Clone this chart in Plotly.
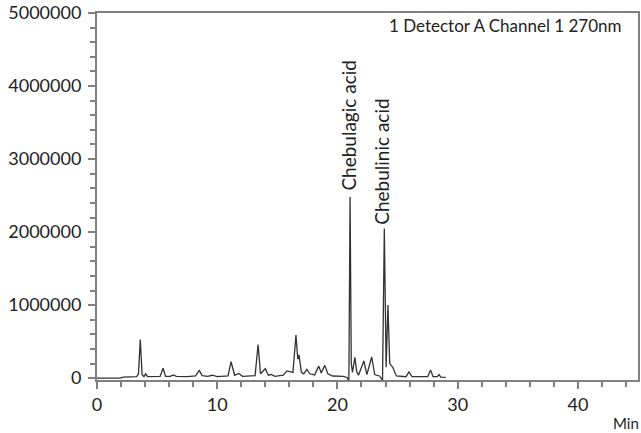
import plotly.graph_objects as go

# Retention time (min) and detector signal
time = [0, 1.9, 2.2, 3.3, 3.45, 3.6, 3.75, 3.9, 4.05, 4.2, 5.25, 5.5, 5.7, 6.1, 6.35, 6.6,
        7.5, 8.2, 8.5, 8.75, 9.2, 9.6, 10.0, 10.9, 11.15, 11.45, 11.8, 12.1, 13.15, 13.4,
        13.6, 14.0, 14.25, 14.5, 14.8, 15.5, 15.8, 16.05, 16.3, 16.55, 16.7, 16.8, 17.0,
        17.2, 17.45, 17.7, 18.1, 18.45, 18.65, 18.95, 19.2, 19.6, 20.5, 20.8, 20.95, 21.05,
        21.15, 21.25, 21.45, 21.6, 21.75, 22.2, 22.45, 22.85, 23.1, 23.5, 23.75, 23.9,
        24.05, 24.2, 24.35, 24.6, 24.9, 25.7, 25.95, 26.2, 27.5, 27.75, 27.95, 28.3,
        28.45, 28.6, 29.0]
signal = [0, 0, 15000, 20000, 60000, 530000, 50000, 20000, 60000, 20000, 25000, 135000,
          25000, 25000, 45000, 25000, 20000, 30000, 105000, 35000, 25000, 40000, 20000,
          30000, 225000, 40000, 65000, 25000, 35000, 460000, 60000, 130000, 40000, 50000,
          25000, 40000, 100000, 90000, 80000, 590000, 260000, 320000, 80000, 60000, 120000,
          60000, 45000, 165000, 70000, 175000, 60000, 30000, 25000, 10000, -40000, 2480000,
          200000, 80000, 285000, 90000, 40000, 235000, 50000, 290000, 50000, 30000, -30000,
          2050000, 150000, 1000000, 200000, 150000, 30000, 20000, 85000, 20000, 20000,
          110000, 20000, 20000, 50000, 15000, 10000]

peak_names = ["Chebulagic acid", "Chebulinic acid"]
y_ticks = [0, 1000000, 2000000, 3000000, 4000000, 5000000]
x_ticks = [0, 10, 20, 30, 40]

FONT = "Lato"
axis_col = "#808080"
text_col = "#222222"

fig = go.Figure()
fig.add_trace(go.Scatter(x=time, y=signal, mode="lines",
                         line=dict(color="#333333", width=1.3), showlegend=False))

fig.update_layout(
    width=641, height=433,
    margin=dict(l=97, r=3, t=13, b=53, autoexpand=False),
    paper_bgcolor="white", plot_bgcolor="white",
    font=dict(family=FONT, size=17, color=text_col),
    showlegend=False,
)
fig.update_xaxes(
    range=[0, 45], tickvals=x_ticks, ticktext=[str(v) for v in x_ticks],
    automargin=False, ticklabeloverflow="allow",
    showgrid=False, zeroline=False, showline=True, linecolor=axis_col, linewidth=2,
    mirror=True, ticks="outside", ticklen=7, tickcolor=axis_col, tickwidth=1.5,
    minor=dict(dtick=2, ticks="outside", ticklen=5, tickcolor=axis_col, tickwidth=1.5, showgrid=False),
    tickfont=dict(family=FONT, size=18, color=text_col),
)
fig.update_yaxes(
    range=[-25000, 5000000], tickvals=y_ticks, ticktext=[str(v) for v in y_ticks],
    automargin=False, ticklabelstandoff=3, ticklabeloverflow="allow",
    showgrid=False, zeroline=False, showline=True, linecolor=axis_col, linewidth=2,
    mirror=True, ticks="outside", ticklen=7, tickcolor=axis_col, tickwidth=1.5,
    minor=dict(dtick=200000, ticks="outside", ticklen=5, tickcolor=axis_col, tickwidth=1.5, showgrid=False),
    tickfont=dict(family=FONT, size=18, color=text_col),
)

# Peak labels
fig.add_annotation(x=21.05, y=2480000, text=peak_names[0], textangle=-90, showarrow=False,
                   xanchor="center", yanchor="bottom", yshift=4, xshift=-2,
                   font=dict(family=FONT, size=19, color=text_col))
fig.add_annotation(x=23.9, y=2050000, text=peak_names[1], textangle=-90, showarrow=False,
                   xanchor="center", yanchor="bottom", yshift=2, xshift=-3,
                   font=dict(family=FONT, size=19, color=text_col))
# Channel title and axis unit
fig.add_annotation(xref="paper", yref="paper", x=0.975, y=0.9646, text="1 Detector A Channel 1 270nm",
                   showarrow=False, xanchor="right", yanchor="middle",
                   font=dict(family=FONT, size=17, color=text_col))
fig.add_annotation(xref="paper", yref="paper", x=1.0, y=-0.117, text="Min",
                   showarrow=False, xanchor="right", yanchor="middle", xshift=3,
                   font=dict(family=FONT, size=15, color=text_col))

fig.write_html(
    "out.html",
    config={"displayModeBar": False},
    post_script="document.body.style.margin='0';document.body.style.overflow='hidden';",
)
